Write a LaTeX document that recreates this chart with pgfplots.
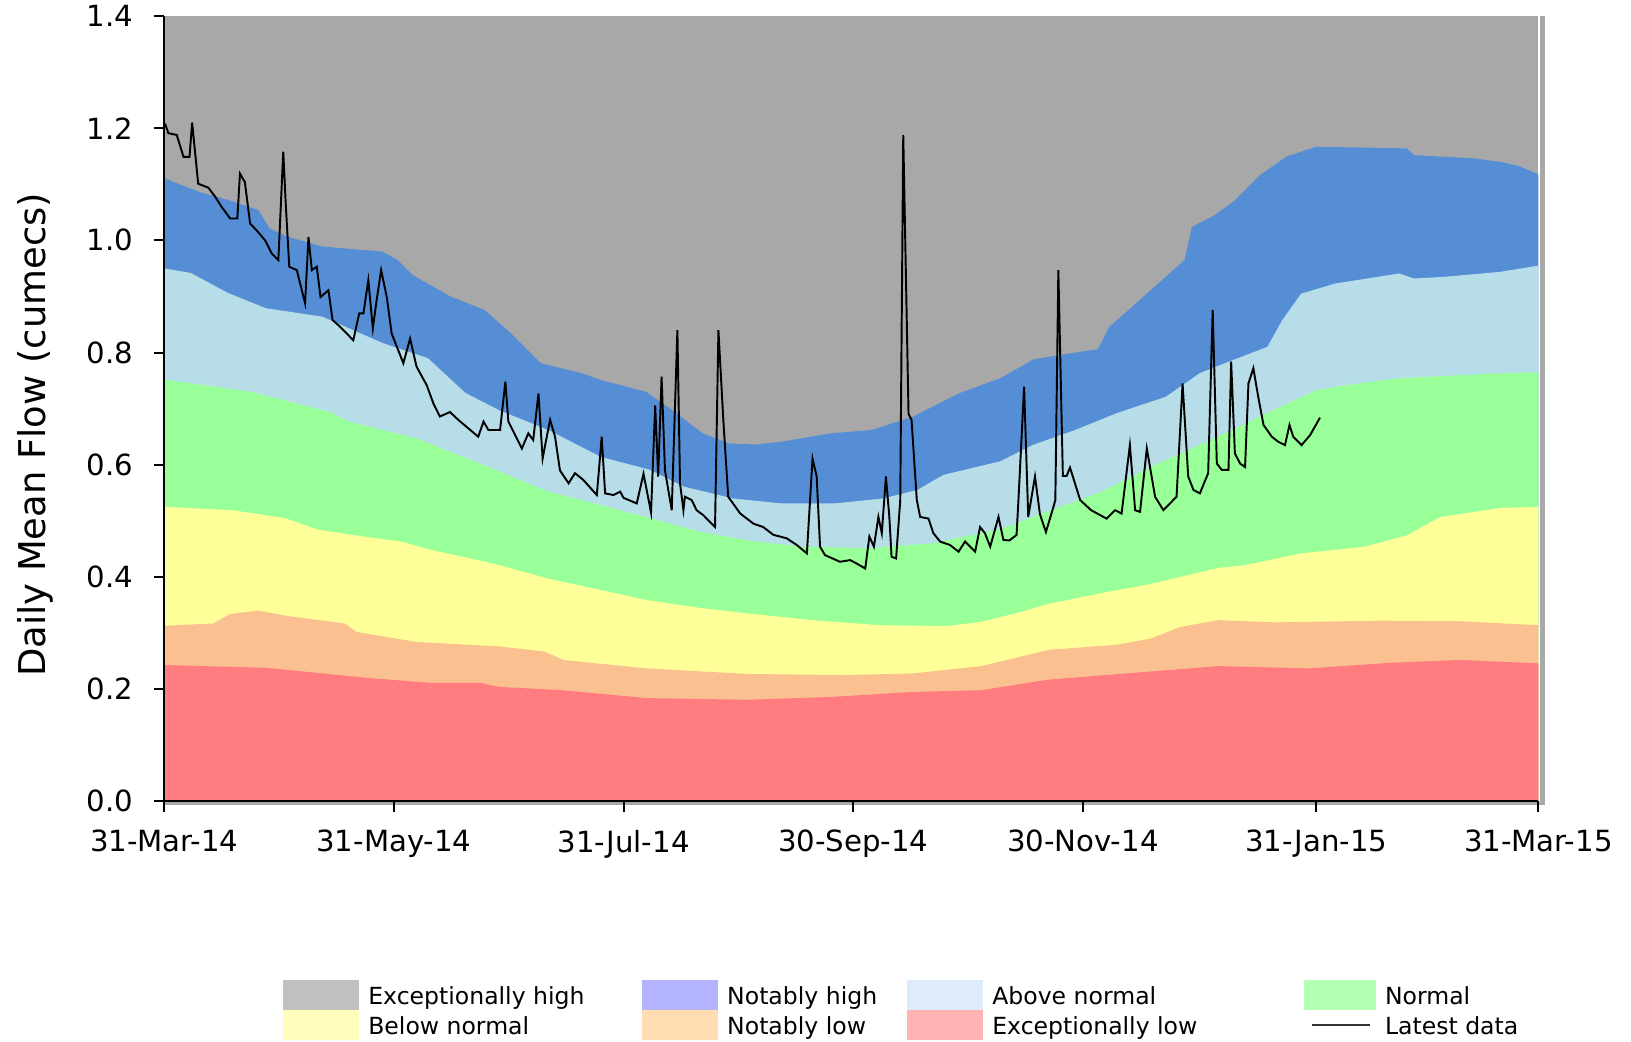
\documentclass[border=0pt]{standalone}
\usepackage{fontspec}
\setmainfont{DejaVu Sans}
\usepackage{pgfplots}
\pgfplotsset{compat=1.18}
\definecolor{cExH}{HTML}{A8A8A8}
\definecolor{cNoH}{HTML}{558ED5}
\definecolor{cAbN}{HTML}{B7DDE8}
\definecolor{cNor}{HTML}{99FF99}
\definecolor{cBeN}{HTML}{FFFF99}
\definecolor{cNoL}{HTML}{FAC090}
\definecolor{cExL}{HTML}{FF7C80}
\definecolor{lExH}{HTML}{C0C0C0}
\definecolor{lNoH}{HTML}{B3B3FF}
\definecolor{lAbN}{HTML}{DDEBFB}
\definecolor{lNor}{HTML}{B3FFB3}
\definecolor{lBeN}{HTML}{FFFFBB}
\definecolor{lNoL}{HTML}{FFDDB0}
\definecolor{lExL}{HTML}{FFB3B3}
\newcommand{\lt}[2]{\raisebox{0.035cm}{\makebox[#1][l]{#2}}}
\begin{document}
\begin{tikzpicture}
\begin{axis}[name=ax, scale only axis, width=13.74cm, height=7.853cm,
  xmin=0, xmax=365, ymin=0, ymax=1.4,
  clip=false,
  axis lines*=left, axis on top,
  axis line style={line width=0.65pt, black},
  tick align=outside, major tick length=0.105cm,
  tick style={line width=0.6pt, black},
  xtick={0,61,122,183,244,306,365},
  xticklabels={31-Mar-14,31-May-14,31-Jul-14,30-Sep-14,30-Nov-14,31-Jan-15,31-Mar-15},
  ytick={0,0.2,0.4,0.6,0.8,1.0,1.2,1.4},
  yticklabel style={/pgf/number format/fixed, /pgf/number format/fixed zerofill, /pgf/number format/precision=1, xshift=-0.08cm},
  xticklabel style={yshift=-0.06cm},
  /pgf/number format/assume math mode=true,
  ticklabel style={font=\fontsize{8.3}{10}\selectfont},
  ylabel={Daily Mean Flow (cumecs)},
  ylabel style={font=\fontsize{10.5}{12}\selectfont, at={(axis description cs:-0.0941,0.4665)}, anchor=center},
  legend columns=4,
  legend cell align=left,
  legend style={at={(axis description cs:0.0862,-0.2276)}, anchor=north west, draw=none, fill=none,
    inner sep=0pt, outer sep=0pt, row sep=0pt,
    font=\fontsize{6.7}{8}\selectfont,
    nodes={inner sep=0pt, text height=0.729em, text depth=0pt},
    /tikz/every odd column/.style={column sep=0.09cm}},
]
% exceptionally high (background)
\addplot[fill=cExH, draw=none, forget plot] coordinates {(0,1.4) (365,1.4)} \closedcycle;
% notably high (upper boundary)
\addplot[fill=cNoH, draw=none, forget plot] coordinates {
(0,1.111) (4,1.100) (10,1.085) (17,1.072) (25,1.054) (28,1.021) (33,1.006) (42,0.989) (58,0.980) (62,0.965) (66,0.938) (76,0.900) (85,0.876) (92,0.835) (100,0.781) (111,0.763) (116,0.751) (128,0.730) (135,0.697) (143,0.656) (150,0.638) (157,0.636) (164,0.641) (177,0.656) (188,0.662) (199,0.686) (211,0.727) (222,0.754) (231,0.788) (240,0.798) (248,0.806) (251,0.846) (256,0.875) (262,0.911) (271,0.965) (273,1.024) (279,1.045) (284,1.069) (291,1.116) (298,1.149) (306,1.167) (330,1.164) (332,1.152) (348,1.146) (355,1.140) (360,1.132) (365,1.118)
} \closedcycle;
% above normal
\addplot[fill=cAbN, draw=none, forget plot] coordinates {
(0,0.950) (7,0.942) (17,0.906) (27,0.879) (42,0.864) (58,0.817) (70,0.790) (80,0.728) (89,0.697) (102,0.662) (116,0.614) (129,0.591) (138,0.561) (151,0.540) (164,0.531) (178,0.531) (191,0.540) (200,0.555) (207,0.582) (222,0.606) (231,0.636) (242,0.662) (253,0.692) (266,0.721) (275,0.763) (284,0.787) (293,0.810) (297,0.858) (302,0.905) (311,0.923) (328,0.941) (332,0.932) (340,0.935) (355,0.944) (365,0.955)
} \closedcycle;
% normal
\addplot[fill=cNor, draw=none, forget plot] coordinates {
(0,0.752) (23,0.730) (44,0.694) (49,0.677) (67,0.647) (85,0.599) (102,0.552) (116,0.528) (129,0.505) (142,0.481) (155,0.465) (169,0.454) (187,0.451) (204,0.460) (222,0.485) (240,0.530) (249,0.552) (262,0.596) (275,0.635) (293,0.692) (306,0.733) (317,0.745) (328,0.754) (345,0.760) (355,0.763) (365,0.765)
} \closedcycle;
% below normal
\addplot[fill=cBeN, draw=none, forget plot] coordinates {
(0,0.525) (18,0.519) (32,0.505) (41,0.484) (54,0.471) (63,0.463) (71,0.448) (84,0.429) (89,0.421) (102,0.397) (115,0.378) (128,0.359) (142,0.345) (155,0.335) (172,0.323) (190,0.314) (208,0.3125) (217,0.320) (226,0.335) (235,0.352) (248,0.370) (261,0.386) (280,0.416) (287,0.421) (302,0.442) (319,0.454) (330,0.474) (339,0.507) (355,0.523) (365,0.525)
} \closedcycle;
% notably low
\addplot[fill=cNoL, draw=none, forget plot] coordinates {
(0,0.313) (13,0.317) (17.5,0.334) (25,0.340) (33,0.330) (48,0.317) (51,0.302) (67,0.284) (89,0.276) (101,0.267) (106,0.252) (128,0.237) (155,0.227) (181,0.225) (199,0.228) (217,0.241) (235,0.270) (253,0.279) (262,0.290) (270,0.311) (280,0.323) (295,0.319) (324,0.322) (344,0.321) (365,0.314)
} \closedcycle;
% exceptionally low
\addplot[fill=cExL, draw=none, forget plot] coordinates {
(0,0.243) (27,0.238) (54,0.220) (71,0.211) (84,0.211) (89,0.204) (106,0.198) (128,0.184) (155,0.181) (177,0.186) (199,0.195) (217,0.198) (235,0.217) (265,0.233) (280,0.241) (304,0.237) (326,0.247) (344,0.252) (365,0.246)
} \closedcycle;
% frame
\draw[color=cExH, line width=1.34pt] (axis cs:366.14,1.4) -- (axis cs:366.14,-0.007);
\draw[color=cExH, line width=0.7pt] (axis cs:0,-0.0043) -- (axis cs:366.1,-0.0043);
% latest data
\addplot[black, line width=0.55pt, forget plot] coordinates {
(0.2,1.208) (1.1,1.191) (3.3,1.188) (5.1,1.149) (6.7,1.149) (7.4,1.210) (9.0,1.101) (11.7,1.094) (13.5,1.078) (15.2,1.060) (17.5,1.039) (19.4,1.039) (20.1,1.119) (21.4,1.104) (22.8,1.030) (24.5,1.018) (26.8,1.000) (28.5,0.977) (30.3,0.965) (31.6,1.158) (32.3,1.06) (33.2,0.953) (35.2,0.947) (37.4,0.888) (38.3,1.006) (39.2,0.947) (40.5,0.953) (41.5,0.899) (43.6,0.911) (44.7,0.858) (46.7,0.846) (50.2,0.822) (51.8,0.870) (52.9,0.870) (54.2,0.929) (55.4,0.843) (56.4,0.893) (57.6,0.947) (59.1,0.899) (60.4,0.834) (63.5,0.781) (65.3,0.825) (67.0,0.775) (69.7,0.742) (71.5,0.709) (73.2,0.686) (75.9,0.694) (78.1,0.680) (83.4,0.650) (84.8,0.677) (86.1,0.662) (89.2,0.662) (90.6,0.748) (91.4,0.677) (95.0,0.629) (96.7,0.656) (98.0,0.644) (99.4,0.727) (100.5,0.611) (101.6,0.650) (102.5,0.680) (103.8,0.650) (105.1,0.590) (107.4,0.567) (109.1,0.585) (111.3,0.573) (114.9,0.546) (116.2,0.650) (117.1,0.549) (119.3,0.546) (121.1,0.552) (122.0,0.541) (125.5,0.531) (127.3,0.584) (129.3,0.515) (130.4,0.706) (131.2,0.579) (132.1,0.757) (133.0,0.590) (134.8,0.519) (136.3,0.840) (137.0,0.567) (137.9,0.519) (138.3,0.543) (140.1,0.537) (141.4,0.519) (143.2,0.510) (146.3,0.489) (147.2,0.840) (148.5,0.680) (149.8,0.543) (153.0,0.513) (156.5,0.495) (159.1,0.489) (161.8,0.475) (165.3,0.469) (168.0,0.457) (170.7,0.442) (172.2,0.611) (173.3,0.579) (174.2,0.454) (175.5,0.439) (179.5,0.427) (182.2,0.430) (183.9,0.424) (186.2,0.415) (187.3,0.472) (188.5,0.454) (189.7,0.507) (190.6,0.478) (191.7,0.579) (192.6,0.507) (193.2,0.436) (194.4,0.433) (195.5,0.537) (196.3,1.188) (197.7,0.691) (198.5,0.680) (199.9,0.537) (200.8,0.507) (203.0,0.504) (204.3,0.478) (206.1,0.463) (208.7,0.457) (211.0,0.445) (212.7,0.463) (215.4,0.445) (216.7,0.489) (218.0,0.478) (219.4,0.454) (221.6,0.507) (222.9,0.466) (224.5,0.465) (226.4,0.475) (226.9,0.537) (228.4,0.739) (229.5,0.507) (231.3,0.579) (232.6,0.512) (234.2,0.480) (236.2,0.525) (236.7,0.537) (237.5,0.947) (238.7,0.580) (239.7,0.580) (240.6,0.595) (243.3,0.537) (246.2,0.519) (250.3,0.504) (252.6,0.519) (254.3,0.513) (256.5,0.635) (257.9,0.519) (259.2,0.516) (261.0,0.629) (263.2,0.543) (265.4,0.519) (268.9,0.543) (270.5,0.745) (272.0,0.579) (273.4,0.555) (275.1,0.549) (277.3,0.585) (278.5,0.876) (279.6,0.602) (280.9,0.591) (282.7,0.591) (283.4,0.784) (284.4,0.620) (285.8,0.602) (287.1,0.596) (288.0,0.745) (289.3,0.772) (290.6,0.721) (292.0,0.671) (294.2,0.650) (295.9,0.641) (297.7,0.635) (298.9,0.671) (299.9,0.650) (302.1,0.635) (304.4,0.653) (307.0,0.684)
};
% legend
\addlegendimage{legend image code/.code={\fill[lExH, draw=none] (0cm,-0.15cm) rectangle (0.766cm,0.15cm);}}
\addlegendentry{\lt{2.733cm}{Exceptionally high}}
\addlegendimage{legend image code/.code={\fill[lNoH, draw=none] (0cm,-0.15cm) rectangle (0.766cm,0.15cm);}}
\addlegendentry{\lt{1.795cm}{Notably high}}
\addlegendimage{legend image code/.code={\fill[lAbN, draw=none] (0cm,-0.15cm) rectangle (0.766cm,0.15cm);}}
\addlegendentry{\lt{3.12cm}{Above normal}}
\addlegendimage{legend image code/.code={\fill[lNor, draw=none] (0cm,-0.15cm) rectangle (0.717cm,0.15cm);}}
\addlegendentry{\lt{1.2cm}{Normal}}
\addlegendimage{legend image code/.code={\fill[lBeN, draw=none] (0cm,-0.15cm) rectangle (0.766cm,0.15cm);}}
\addlegendentry{\lt{2.733cm}{Below normal}}
\addlegendimage{legend image code/.code={\fill[lNoL, draw=none] (0cm,-0.15cm) rectangle (0.766cm,0.15cm);}}
\addlegendentry{\lt{1.795cm}{Notably low}}
\addlegendimage{legend image code/.code={\fill[lExL, draw=none] (0cm,-0.15cm) rectangle (0.766cm,0.15cm);}}
\addlegendentry{\lt{3.12cm}{Exceptionally low}}
\addlegendimage{legend image code/.code={\path[draw=none, fill=none] (0cm,-0.15cm) rectangle (0.717cm,0.15cm); \draw[black!80, line width=0.6pt] (0.08cm,0cm) -- (0.653cm,0cm);}}
\addlegendentry{\lt{1.2cm}{Latest data}}
\end{axis}
\pgfresetboundingbox
\path[use as bounding box] ([shift={(-1.643cm,-2.397cm)}]ax.south west) rectangle ++(16.31cm,10.41cm);
\end{tikzpicture}
\end{document}
